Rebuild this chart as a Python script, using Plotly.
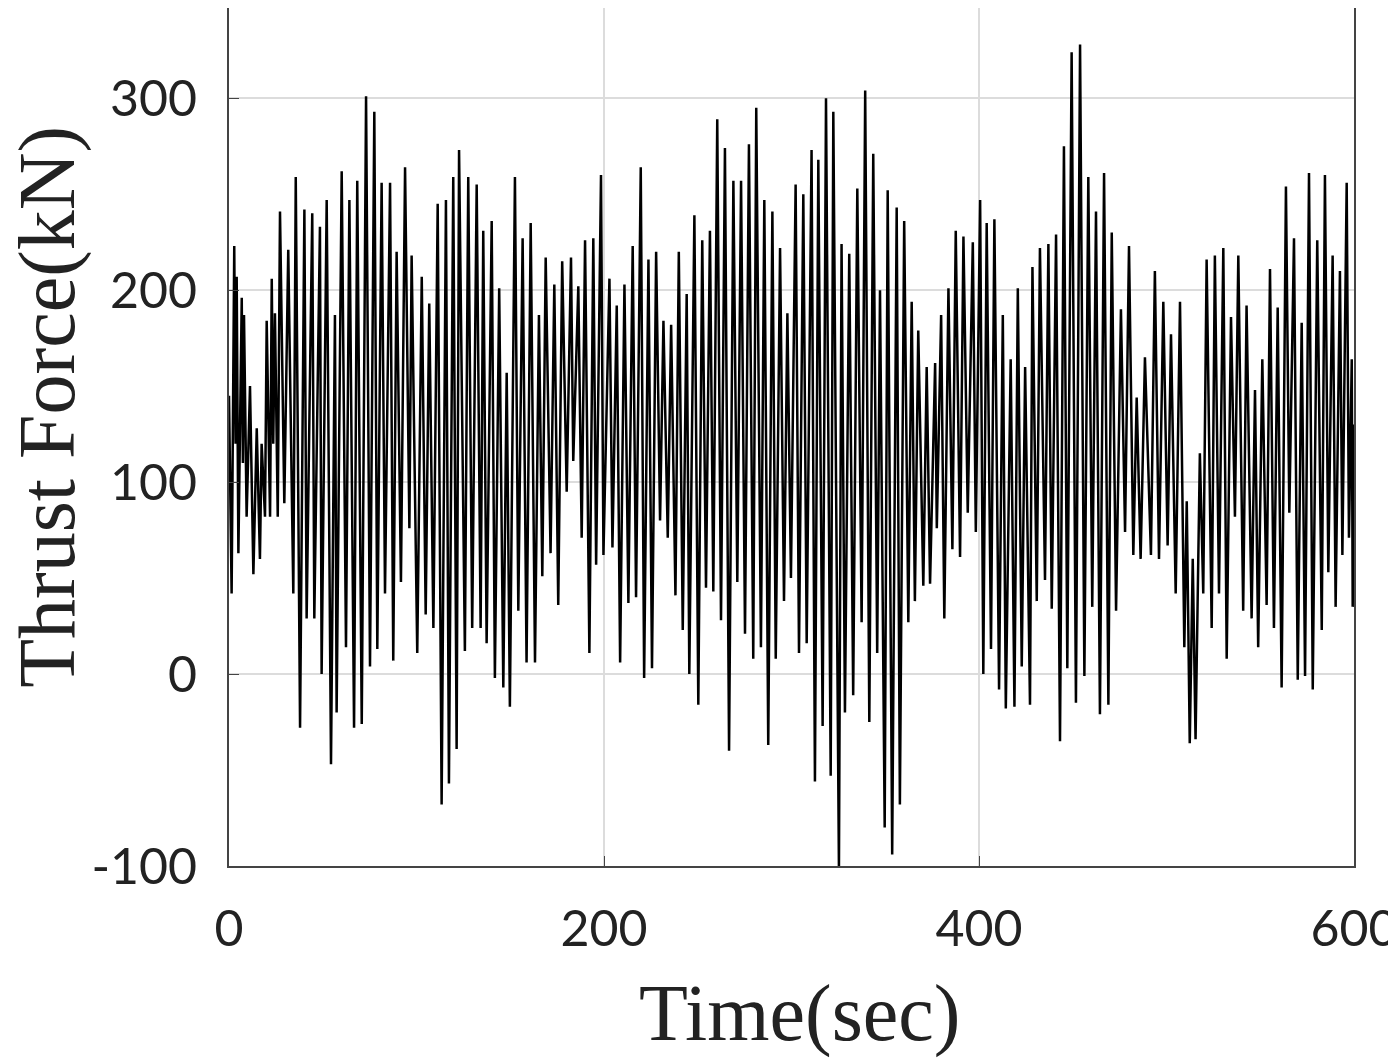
import plotly.graph_objects as go

# Time (sec) of each read-off extremum and the thrust force (kN) there
time_s = [
    0, 1.4, 2.8, 3.5, 4.1, 5.0, 6.8, 7.4, 8.0, 9.4, 11.2, 13.0, 14.8, 16.5, 17.4, 19.2, 20.1, 21.9,
    22.8, 23.6, 24.5, 26.0, 27.2, 29.5, 31.6, 34.3, 35.6, 37.9, 40.2, 41.4, 44.4, 45.5, 48.5, 49.4,
    52.1, 54.4, 56.5, 57.4,
    60.1, 62.4, 64.2, 66.7, 68.4, 70.8, 73.1, 75.2, 77.5, 79.1, 81.4, 83.2, 85.9, 87.6, 89.4, 91.7,
    93.9, 96.2, 97.4, 100.4, 102.8, 104.9, 106.8, 109.0, 111.3, 113.4, 115.7, 117.3, 119.6, 121.4, 122.7,
    125.8, 127.6, 129.7, 132.1, 134.2, 135.6, 137.4, 140.1, 141.8, 144.1, 146.3, 148.1, 149.8, 152.5,
    154.3, 156.6, 158.7, 160.9, 163.2, 165.3, 167.1, 168.9, 171.5, 173.5, 175.6, 177.7, 180.1, 182.4, 183.6,
    186.3, 188.1, 189.9, 192.2, 194.3, 195.8, 198.4, 199.7, 202.9, 204.5, 206.8, 208.6, 210.9, 213.0,
    215.3, 217.1, 219.6, 221.4, 223.7, 225.6, 227.8, 229.9, 231.7, 234.0, 235.8, 238.1, 239.9, 242.0,
    244.1, 245.5,
    248.2, 250.3, 252.4, 254.4, 256.5, 258.3, 260.4, 262.4, 264.5, 266.7, 269.0, 271.1, 273.1, 275.2,
    277.3, 279.6, 281.2, 283.7, 285.5, 287.6, 289.8, 291.6, 293.9, 296.0, 297.8, 299.7, 302.2, 304.0, 306.3,
    308.1, 310.7, 312.5, 314.3, 316.6, 318.4, 320.9, 322.3, 325.3, 326.7, 328.5, 330.8, 332.9, 335.1,
    337.4, 339.3, 341.5, 343.6, 345.7, 347.2, 349.7, 351.3, 353.7, 356.1, 357.8, 360.1, 362.3, 364.1,
    365.8, 367.6,
    370.3, 372.1, 373.9, 376.6, 377.5, 379.8, 381.5, 383.7, 385.8, 387.6, 389.9, 391.7, 394.0, 396.7,
    398.3, 400.6, 402.3, 404.1, 406.4, 408.2, 410.7, 412.7, 414.3, 416.9, 418.9, 420.7, 422.8, 424.6,
    427.2, 428.5,
    430.8, 432.5, 435.2, 437.0, 438.8, 441.1, 443.2, 445.3, 447.1, 449.4, 451.7, 453.9, 456.2, 458.3,
    460.4, 462.4, 464.5, 466.7, 469.0, 470.8, 473.1, 475.7, 477.9, 480.0, 482.3, 484.1, 486.2, 488.5,
    491.7, 493.8, 496.0, 498.3, 500.6, 502.4, 504.9, 507.2, 509.5, 510.8, 512.4, 514.0, 515.5, 517.8,
    519.6, 521.4, 524.1, 525.8, 528.0, 530.3, 532.1, 534.4, 536.5, 538.3, 540.9, 542.7, 545.4, 547.2,
    548.9, 551.1,
    553.4, 555.2, 557.3, 559.3, 561.4, 563.7, 565.5, 568.0, 570.0, 572.1, 573.9, 576.0, 578.0, 580.4,
    582.8, 584.5, 586.3, 588.6, 590.2, 592.5, 593.8, 596.1, 597.3, 598.8, 599.3, 600.0,
]

thrust_kN = [
    145, 42, 223, 120, 207, 63, 196, 110, 187, 82, 150, 52, 128, 60, 120, 82, 184, 82,
    206, 120, 188, 82, 241, 89, 221, 42, 259, -28, 242, 29, 240, 29, 233, 0,
    247, -47, 187, -20,
    262, 14, 247, -28, 257, -26, 301, 4, 293, 13, 256, 42, 256, 7, 220, 48,
    264, 76, 218, 11, 207, 31, 193, 24, 245, -68, 247, -57, 259, -39, 273,
    12, 259, 24, 255, 24, 231, 16, 236, -2, 201, -7, 157, -17, 259,
    33, 227, 6, 235, 6, 187, 51, 217, 63, 203, 36, 215, 95, 217, 111,
    202, 71, 226, 11, 227, 57, 260, 62, 206, 66, 192, 6, 203, 37,
    223, 40, 264, -2, 216, 3, 220, 80, 184, 71, 182, 41, 220, 23,
    198, 0,
    239, -16, 226, 45, 231, 43, 289, 28, 274, -40, 257, 48, 257, 21,
    276, 8, 295, 14, 247, -37, 241, 8, 222, 38, 188, 50, 255, 11, 250,
    16, 273, -56, 268, -27, 300, -53, 293, -102, 224, -20, 219, -11, 253,
    27, 304, -25, 271, 11, 200, -80, 252, -94, 243, -68, 236, 27, 194,
    38, 179,
    46, 160, 47, 162, 76, 187, 29, 201, 65, 231, 61, 228, 84, 225,
    74, 247, 0, 235, 13, 237, -8, 187, -18, 164, -17, 201, 4, 160,
    -16, 212,
    38, 222, 49, 224, 34, 229, -35, 275, 3, 324, -15, 328, -1, 259,
    35, 241, -21, 261, -16, 230, 33, 190, 74, 223, 62, 144, 60, 165,
    62, 210, 60, 194, 67, 177, 42, 194, 14, 90, -36, 60, -34, 115,
    42, 216, 24, 218, 42, 222, 8, 186, 82, 218, 33, 192, 29, 148,
    14, 164,
    36, 211, 24, 191, -7, 254, 84, 227, -3, 183, -1, 261, -8, 226,
    23, 260, 53, 218, 35, 210, 62, 256, 71, 164, 35, 130,
]

x_ticks = [0, 200, 400, 600]
y_ticks = [-100, 0, 100, 200, 300]
x_title = "Time(sec)"
y_title = "Thrust Force(kN)"

fig = go.Figure()
fig.add_trace(go.Scatter(
    x=time_s, y=thrust_kN, mode="lines",
    line=dict(color="black", width=2.5),
    showlegend=False,
))

tick_font = dict(family="Lato, Open Sans, sans-serif", size=50, color="#222")
title_font = dict(family="Liberation Serif, serif", size=80, color="#222")

fig.update_layout(
    width=1388, height=1052,
    margin=dict(l=221, r=42, t=0, b=194),
    paper_bgcolor="white", plot_bgcolor="white",
    xaxis=dict(
        range=[0, 600], tickvals=x_ticks, ticktext=[str(v) for v in x_ticks],
        showgrid=True, gridcolor="#dcdcdc", gridwidth=1.5,
        showline=True, linecolor="#444", linewidth=2, mirror=True,
        ticks="inside", ticklen=10, tickcolor="#444",
        tickfont=tick_font, ticklabelstandoff=18, ticklabeloverflow="allow",
        zeroline=False, automargin=False,
    ),
    yaxis=dict(
        range=[-100, 347], tickvals=y_ticks, ticktext=[str(v) for v in y_ticks],
        showgrid=True, gridcolor="#dcdcdc", gridwidth=1.5,
        showline=True, linecolor="#444", linewidth=2, mirror=True,
        ticks="inside", ticklen=10, tickcolor="#444",
        tickfont=tick_font, ticklabelstandoff=20, ticklabeloverflow="allow",
        zeroline=False, automargin=False,
    ),
    annotations=[
        dict(text=x_title, xref="paper", yref="paper", x=0.507, y=-0.172,
             xanchor="center", yanchor="middle", showarrow=False, font=title_font),
        dict(text=y_title, xref="paper", yref="paper", x=-0.161, y=0.535,
             xanchor="center", yanchor="middle", textangle=-90, showarrow=False,
             font=title_font),
    ],
)

fig.write_html("out.html")
